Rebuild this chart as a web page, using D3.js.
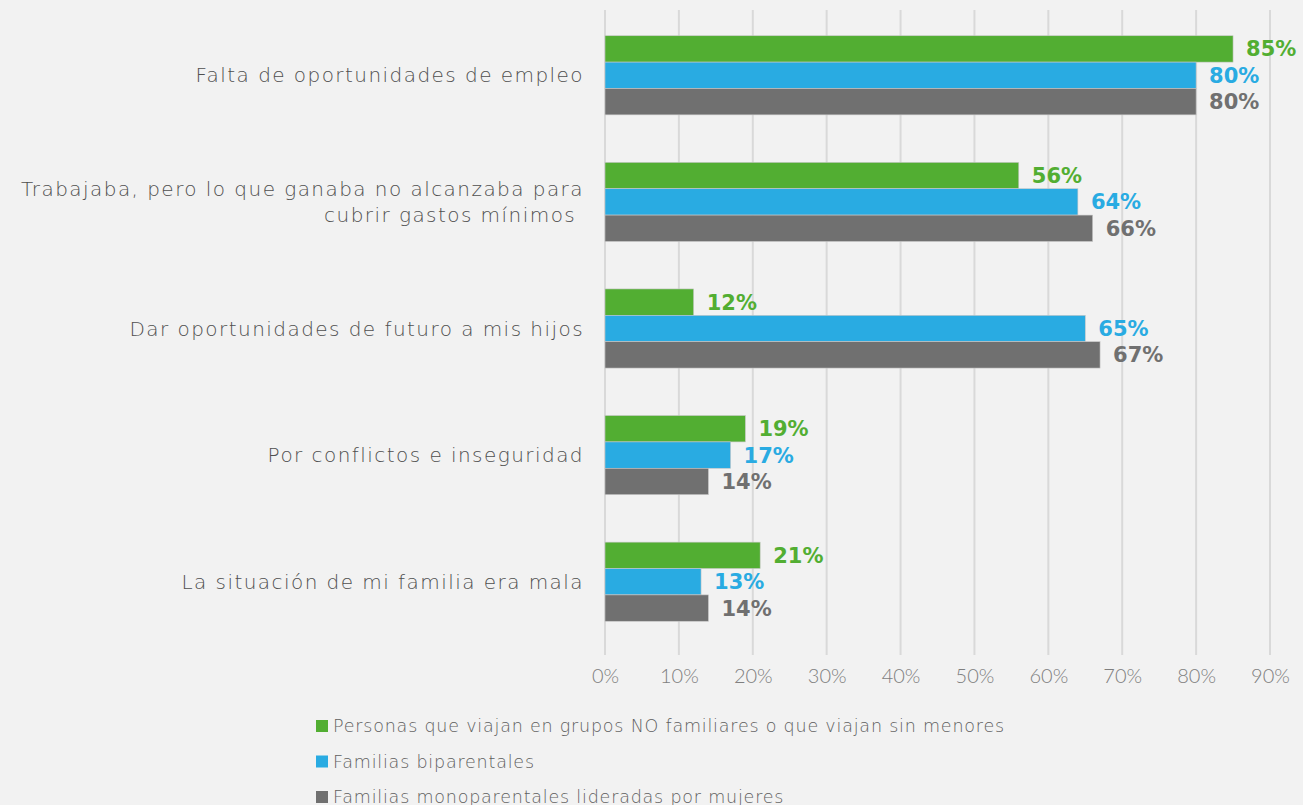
<!DOCTYPE html>
<html>
<head>
<meta charset="utf-8">
<style>
body { margin: 0; background: #f2f2f2; }
text { font-family: "DejaVu Sans", sans-serif; }
</style>
</head>
<body>
<script src="https://cdn.jsdelivr.net/npm/d3@7/dist/d3.min.js"></script>
<script>
// categories, top to bottom
var categories = [
  ["Falta de oportunidades de empleo"],
  ["Trabajaba, pero lo que ganaba no alcanzaba para", "cubrir gastos mínimos "],
  ["Dar oportunidades de futuro a mis hijos"],
  ["Por conflictos e inseguridad"],
  ["La situación de mi familia era mala"]
];
var seriesNames = [
  "Personas que viajan en grupos NO familiares o que viajan sin menores",
  "Familias biparentales",
  "Familias monoparentales lideradas por mujeres"
];
var seriesColors = ["#52ae32", "#29abe2", "#707070"];
var noFamiliares = [85, 56, 12, 19, 21];
var biparentales = [80, 64, 65, 17, 13];
var monoparentales = [80, 66, 67, 14, 14];
var tickValues = [0, 10, 20, 30, 40, 50, 60, 70, 80, 90];

var series = [noFamiliares, biparentales, monoparentales];

var width = 1303, height = 805;
var x0 = 605, x1 = 1270, yTop = 12, yBot = 645;

var svg = d3.select("body").append("svg")
    .attr("width", width)
    .attr("height", height);

var x = d3.scaleLinear().domain([0, 90]).range([x0, x1]);

var y = d3.scaleBand()
    .domain(d3.range(categories.length))
    .range([yTop, yBot])
    .paddingInner(0.375)
    .paddingOuter(0.1875);

var ySub = d3.scaleBand()
    .domain(d3.range(series.length))
    .range([0, y.bandwidth()]);

// gridlines
svg.append("g")
  .selectAll("line")
  .data(tickValues)
  .enter().append("line")
    .attr("x1", function(d) { return x(d); })
    .attr("x2", function(d) { return x(d); })
    .attr("y1", yTop - 2)
    .attr("y2", yBot + 10)
    .style("stroke", "#d9d9d9")
    .style("stroke-width", 2);

// axis labels
var xAxis = svg.append("g")
    .attr("transform", "translate(0," + yBot + ")")
    .call(d3.axisBottom(x).tickValues(tickValues).tickSize(0).tickPadding(24)
      .tickFormat(function(d) { return d + "%"; }));
xAxis.select(".domain").remove();
xAxis.selectAll("text")
    .style("font-size", "20px")
    .style("font-weight", "300")
    .style("fill", "#7f7f7f")
    .style("font-family", "Lato, sans-serif");

// bars
series.forEach(function(vals, s) {
  var g = svg.append("g");
  g.selectAll("rect")
    .data(vals)
    .enter().append("rect")
      .attr("x", x(0))
      .attr("y", function(d, i) { return y(i) + ySub(s); })
      .attr("width", function(d) { return x(d) - x(0); })
      .attr("height", ySub.bandwidth())
      .style("fill", seriesColors[s])
      .style("stroke", "#c8c8c8")
      .style("stroke-width", 0.6);

  g.selectAll("text")
    .data(vals)
    .enter().append("text")
      .attr("x", function(d) { return x(d) + 13; })
      .attr("y", function(d, i) { return y(i) + ySub(s) + ySub.bandwidth() / 2; })
      .attr("dy", "0.36em")
      .style("font-size", "21px")
      .style("font-weight", "bold")
      .style("fill", seriesColors[s])
      .text(function(d) { return d + "%"; });
});

// category labels
categories.forEach(function(lines, i) {
  var cy = y(i) + y.bandwidth() / 2;
  var t = svg.append("text")
      .attr("text-anchor", "end")
      .attr("x", 584)
      .attr("y", cy - (lines.length - 1) * 13)
      .style("font-size", "20px")
      .style("font-weight", "200")
      .style("letter-spacing", "1.45px")
      .style("fill", "#4f4f4f");
  lines.forEach(function(l, k) {
    t.append("tspan")
      .attr("x", 584)
      .attr("dy", k === 0 ? "0.35em" : 26)
      .style("white-space", "pre")
      .text(l);
  });
});

// legend
var legend = svg.append("g")
  .selectAll("g")
  .data(seriesNames)
  .enter().append("g")
    .attr("transform", function(d, i) { return "translate(316," + (726 + i * 35.5) + ")"; });
legend.append("rect")
    .attr("x", 0).attr("y", -6)
    .attr("width", 12).attr("height", 12)
    .style("fill", function(d, i) { return seriesColors[i]; });
legend.append("text")
    .attr("x", 17)
    .attr("dy", "0.35em")
    .style("font-size", "17.5px")
    .style("font-weight", "200")
    .style("letter-spacing", "0.8px")
    .style("fill", "#5f5f5f")
    .text(function(d) { return d; });
</script>
</body>
</html>
